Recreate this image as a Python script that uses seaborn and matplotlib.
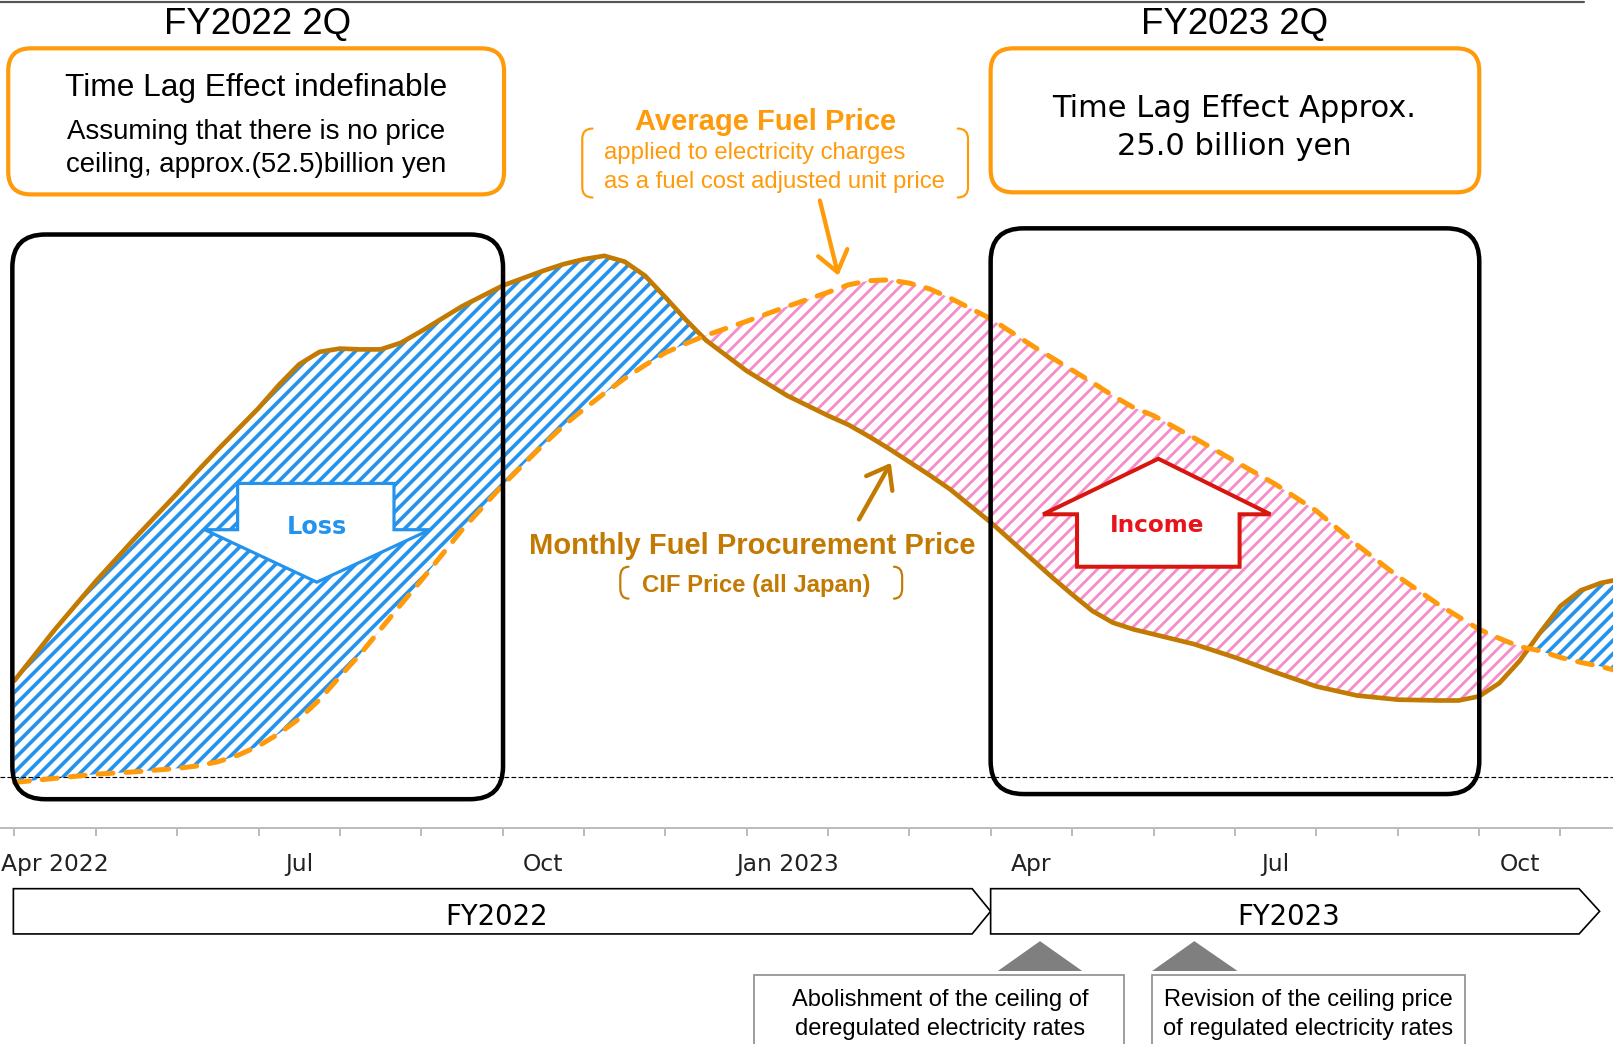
import matplotlib
matplotlib.use("Agg")
import matplotlib.pyplot as plt
from matplotlib.patches import FancyBboxPatch, Polygon, Rectangle, PathPatch
from matplotlib.path import Path
import numpy as np
import seaborn as sns

# ---- data: month index (0 = Apr 2022), price index ----
months = [0.0, 0.5, 1.0, 1.5, 2.0, 2.25, 2.5, 2.75, 3.0, 3.25,
          3.5, 3.75, 4.0, 4.25, 4.5, 4.75, 5.0, 5.5, 6.0, 6.5,
          6.75, 7.0, 7.25, 7.5, 7.75, 8.0, 8.25, 8.5, 9.0, 9.5,
          10.0, 10.25, 10.5, 10.75, 11.0, 11.25, 11.5, 12.0, 12.5, 12.75,
          13.0, 13.25, 13.5, 13.75, 14.0, 14.5, 15.0, 15.5, 16.0, 16.5,
          17.0, 17.5, 17.75, 18.0, 18.25, 18.5, 18.75, 19.0, 19.25, 19.5,
          19.65]

# Monthly fuel procurement price (CIF price, all Japan)
procurement = [17.8, 24.0, 29.8, 35.2, 40.4, 43.1, 45.7, 48.2, 50.7, 53.5,
               56.0, 57.5, 57.9, 57.8, 57.8, 58.6, 60.0, 63.0, 65.5, 67.3,
               68.1, 68.7, 69.1, 68.4, 66.7, 64.1, 61.4, 58.9, 55.2, 52.2,
               49.8, 48.7, 47.3, 45.8, 44.2, 42.6, 40.9, 36.9, 32.5, 30.3,
               28.2, 26.2, 24.8, 24.0, 23.4, 22.2, 20.6, 18.8, 17.1, 16.0,
               15.5, 15.4, 15.4, 15.9, 17.5, 20.2, 23.6, 26.8, 28.7, 29.6,
               29.9]

# Average fuel price applied to electricity charges
average = [5.5, 6.0, 6.5, 6.8, 7.2, 7.5, 8.0, 8.8, 9.9, 11.4,
           13.2, 15.5, 18.3, 21.0, 24.0, 27.0, 29.9, 36.0, 41.4, 46.3,
           48.6, 50.6, 52.5, 54.3, 55.9, 57.4, 58.5, 59.5, 61.2, 63.0,
           64.7, 65.6, 66.1, 66.2, 65.8, 65.1, 64.0, 61.5, 58.3, 56.8,
           55.3, 53.8, 52.2, 50.8, 49.8, 47.1, 44.3, 41.5, 38.3, 34.2,
           30.4, 27.0, 25.5, 24.0, 22.9, 21.9, 21.4, 20.6, 20.0, 19.5,
           19.1]

reference_level = 6.1

month_ticks = list(range(20))
label_positions = [0.5, 3.5, 6.5, 9.5, 12.5, 15.5, 18.5]
month_labels = ["Apr 2022", "Jul", "Oct", "Jan 2023", "Apr", "Jul", "Oct"]

# ---- styling ----
BROWN = "#C27A03"
ORANGE = "#FF9A0A"
BLUE = "#2393EE"
PINK = "#F78CCA"
RED = "#D8150E"
SANS = ["Liberation Sans", "DejaVu Sans"]
VERD = ["DejaVu Sans"]

sns.set_theme(style="white")
plt.rcParams["font.family"] = ["DejaVu Sans"]

W, H, DPI = 1613, 1044, 120
fig = plt.figure(figsize=(W / DPI, H / DPI), dpi=DPI)

# main chart axes: bottom edge is the time axis
ax = fig.add_axes([0, 1 - 805 / 1015, 1, 805 / 1015])
ax.set_xlim(-14 / 79.1, (1568 - 14) / 79.1)
ax.set_ylim(0, 100)
ax.set_facecolor("none")

p = np.array(procurement)
a = np.array(average)
with plt.rc_context({"hatch.linewidth": 2.2}):
    ax.fill_between(months, p, a, where=p >= a, interpolate=True, facecolor="none",
                    edgecolor=BLUE, hatch="///", linewidth=0, zorder=1)
with plt.rc_context({"hatch.linewidth": 1.7}):
    ax.fill_between(months, p, a, where=p < a, interpolate=True, facecolor="none",
                    edgecolor=PINK, hatch="///", linewidth=0, zorder=1)

ax.axhline(reference_level, color="black", lw=0.7, ls=(0, (4, 2)), zorder=1.5)

sns.lineplot(x=months, y=procurement, ax=ax, color=BROWN, lw=2.8,
             solid_capstyle="round", solid_joinstyle="round", zorder=3)
sns.lineplot(x=months, y=average, ax=ax, color=ORANGE, lw=3.0,
             linestyle=(0, (3, 2.6)), dash_capstyle="round", zorder=3)

for side in ["left", "top", "right"]:
    ax.spines[side].set_visible(False)
ax.spines["bottom"].set_color("#bdbdbd")
ax.spines["bottom"].set_linewidth(1.2)
ax.set_yticks([])
ax.set_xticks(month_ticks)
ax.set_xticklabels([])
ax.set_xticks(label_positions, minor=True)
ax.set_xticklabels(month_labels, minor=True)
ax.tick_params(axis="x", which="major", length=4.8, width=0.9, color="#a6a6a6",
               direction="out", bottom=True)
ax.tick_params(axis="x", which="minor", length=0, pad=15, labelsize=14,
               labelcolor="#222222", bottom=True)
ax.set_xlabel("")
ax.set_ylabel("")

# annotation layer in page units (1568 x 1015, y downwards)
ov = fig.add_axes([0, 0, 1, 1])
ov.set_xlim(0, 1568)
ov.set_ylim(1015, 0)
ov.axis("off")


def rbox(x0, y0, x1, y1, color, lw, r, fc="none", z=4):
    ov.add_patch(FancyBboxPatch((x0, y0), x1 - x0, y1 - y0,
                                boxstyle=f"round,pad=0,rounding_size={r}",
                                fc=fc, ec=color, lw=lw, zorder=z, clip_on=False))


def txt(x, y, s, size, color="black", family=SANS, weight="normal", ha="center"):
    ov.text(x, y + 2.5, s, fontsize=size, color=color, family=family, weight=weight,
            ha=ha, va="center", zorder=8)


def bracket(x_out, x_in, y0, y1, color, lw):
    r = 10
    verts = [(x_in, y0), (x_out, y0), (x_out, y0 + r), (x_out, y1 - r),
             (x_out, y1), (x_in, y1)]
    codes = [Path.MOVETO, Path.CURVE3, Path.CURVE3, Path.LINETO,
             Path.CURVE3, Path.CURVE3]
    ov.add_patch(PathPatch(Path(verts, codes), fc="none", ec=color, lw=lw,
                           zorder=6, capstyle="round"))


# top rule
ov.plot([0, 1540], [1.5, 1.5], color="#555555", lw=1.3, clip_on=False)

# quarter headings and result boxes
txt(250, 21, "FY2022 2Q", 22)
txt(1200, 21, "FY2023 2Q", 22)
rbox(8, 47, 490, 189, ORANGE, 2.5, 22)
rbox(963, 47, 1438, 187, ORANGE, 2.5, 22)
txt(249, 83, "Time Lag Effect indefinable", 19)
txt(249, 126, "Assuming that there is no price", 16.6)
txt(249, 158, "ceiling, approx.(52.5)billion yen", 16.6)
txt(1200, 103, "Time Lag Effect Approx.", 18.3, family=VERD)
txt(1200, 140, "25.0 billion yen", 18.3, family=VERD)

# period frames
rbox(12, 228, 489, 777, "black", 2.7, 32, z=5)
rbox(963, 222, 1438, 772, "black", 2.7, 32, z=5)

# average fuel price label
txt(744, 116, "Average Fuel Price", 17.5, color=ORANGE, weight="bold")
txt(587, 146, "applied to electricity charges", 14.3, color=ORANGE, ha="left")
txt(587, 174, "as a fuel cost adjusted unit price", 14.3, color=ORANGE, ha="left")
bracket(566, 576, 125, 192, ORANGE, 1.3)
bracket(941, 931, 125, 192, ORANGE, 1.3)
ov.annotate("", xy=(815, 268), xytext=(797, 195),
            arrowprops=dict(arrowstyle="->,head_length=0.6,head_width=0.45",
                            color=ORANGE, lw=2.6, mutation_scale=20,
                            shrinkA=0, shrinkB=0), zorder=6)

# procurement price label
txt(731, 528, "Monthly Fuel Procurement Price", 17.5, color=BROWN, weight="bold")
txt(735, 567, "CIF Price (all Japan)", 14.3, color=BROWN, weight="bold")
bracket(603, 611, 551, 582, BROWN, 1.3)
bracket(877, 869, 551, 582, BROWN, 1.3)
ov.annotate("", xy=(866, 450), xytext=(835, 505),
            arrowprops=dict(arrowstyle="->,head_length=0.6,head_width=0.45",
                            color=BROWN, lw=2.6, mutation_scale=20,
                            shrinkA=0, shrinkB=0), zorder=6)

# loss / income block arrows
loss = [(231, 470), (383, 470), (383, 515), (418, 515), (308, 566),
        (199, 515), (231, 515)]
ov.add_patch(Polygon(loss, closed=True, fc="white", ec=BLUE, lw=1.9,
                     joinstyle="miter", zorder=6))
txt(308, 510, "Loss", 14.4, color=BLUE, family=VERD, weight="bold")

income = [(1126, 446), (1235, 500), (1205, 500), (1205, 551), (1047, 551),
          (1047, 500), (1014, 500)]
ov.add_patch(Polygon(income, closed=True, fc="white", ec=RED, lw=2.4,
                     joinstyle="miter", zorder=6))
txt(1125, 508, "Income", 13.9, color="#E8141B", family=VERD, weight="bold")

# fiscal year band
ov.add_patch(Polygon([(13, 864), (945, 864), (963, 886), (945, 908), (13, 908)],
                     closed=True, fc="white", ec="black", lw=1.0, zorder=4,
                     clip_on=False))
ov.add_patch(Polygon([(963, 864), (1535, 864), (1555, 886), (1535, 908), (963, 908)],
                     closed=True, fc="white", ec="black", lw=1.0, zorder=4,
                     clip_on=False))
txt(483, 889, "FY2022", 16.5, family=VERD)
txt(1253, 889, "FY2023", 16.5, family=VERD)

# events
ov.add_patch(Polygon([(970, 944), (1052, 944), (1011, 915)], closed=True,
                     fc="#7f7f7f", ec="none", zorder=4))
ov.add_patch(Polygon([(1120, 944), (1203, 944), (1161, 915)], closed=True,
                     fc="#7f7f7f", ec="none", zorder=4))
ov.add_patch(Rectangle((733, 948), 360, 80, fc="white", ec="#8c8c8c", lw=1.0,
                       zorder=4, clip_on=False))
ov.add_patch(Rectangle((1120, 948), 304, 80, fc="white", ec="#8c8c8c", lw=1.0,
                       zorder=4, clip_on=False))
txt(914, 970, "Abolishment of the ceiling of", 14.2)
txt(914, 998, "deregulated electricity rates", 14.2)
txt(1272, 970, "Revision of the ceiling price", 14.2)
txt(1272, 998, "of regulated electricity rates", 14.2)

fig.savefig("out.png", dpi=DPI, facecolor="white")
